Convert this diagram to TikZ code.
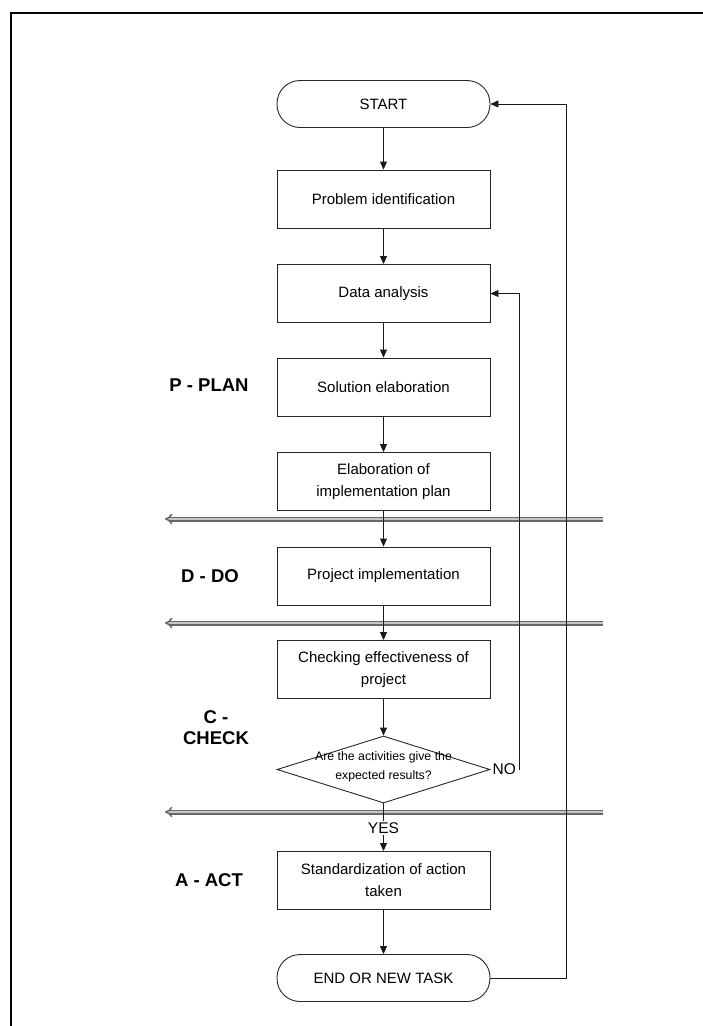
\documentclass[tikz,border=0pt]{standalone}
\usepackage{fontspec}
\setmainfont{Liberation Sans}
\usetikzlibrary{arrows.meta,shapes.geometric}
\begin{document}
\begin{tikzpicture}[x=1pt,y=-1pt,
  box/.style={draw=black!85, line width=0.9pt, minimum width=213pt, minimum height=58pt, align=center, font=\fontsize{15}{22}\selectfont, inner sep=2pt},
  term/.style={box, minimum height=47pt, rounded corners=23pt},
  arr/.style={draw=black!90, line width=0.9pt, -{Triangle[length=8pt,width=7pt]}},
  plain/.style={draw=black!90, line width=0.9pt},
  sep/.style={draw=black!60, double=black!22, double distance=2pt, line width=1.5pt, {Implies}-},
  phase/.style={font=\fontsize{18.5}{21}\selectfont\bfseries, align=center},
  lbl/.style={font=\fontsize{15.5}{18}\selectfont, inner sep=1.5pt},
]
\useasboundingbox (0,0) rectangle (703,1026);
% frame
\draw[line width=2pt] (10.5,1030) -- (10.5,12.5) -- (710,12.5);

% nodes
\node[term] (start) at (383.5,104) {START};
\node[box] (prob) at (383.5,199) {Problem identification};
\node[box] (data) at (383.5,293.5) {Data analysis};
\node[box] (sol) at (383.5,387) {Solution elaboration};
\node[box] (plan) at (383.5,481.5) {Elaboration of\\implementation plan};
\node[box] (impl) at (383.5,576) {Project implementation};
\node[box] (check) at (383.5,669.5) {Checking effectiveness of\\project};
\node[diamond, draw=black!85, line width=0.9pt, minimum width=213pt, minimum height=67pt, inner sep=0pt] (dec) at (383.5,769.5) {};
\node[font=\fontsize{12.3}{19}\selectfont, align=center, inner sep=0pt] (dectext) at (383.5,767) {Are the activities give the\\expected results?};
\node[box] (std) at (383.5,880.5) {Standardization of action\\taken};
\node[term] (end) at (383.5,978) {END OR NEW TASK};

% phase labels
\node[phase] (P) at (209,385) {P - PLAN};
\node[phase] (D) at (210,576) {D - DO};
\node[phase] (C) at (216,728) {C -\\CHECK};
\node[phase] (A) at (209,880) {A - ACT};

% separators
\coordinate (s1l) at (165,519); \coordinate (s1r) at (603,519);
\coordinate (s2l) at (165,623); \coordinate (s2r) at (603,623);
\coordinate (s3l) at (165,812); \coordinate (s3r) at (603,812);
\draw[sep] (s1l) -- (s1r);
\draw[sep] (s2l) -- (s2r);
\draw[sep] (s3l) -- (s3r);

% labels on connectors
\node[lbl, fill=white] (yes) at (383.5,828) {YES};
\node[lbl, anchor=west, inner xsep=3.5pt, inner ysep=1pt] (no) at ([xshift=-1.5pt]dec.east) {NO};

% connectors
\draw[arr] (start.south) -- (prob.north);
\draw[arr] (prob.south) -- (data.north);
\draw[arr] (data.south) -- (sol.north);
\draw[arr] (sol.south) -- (plan.north);
\draw[arr] (plan.south) -- (impl.north);
\draw[arr] (impl.south) -- (check.north);
\draw[arr] (check.south) -- (dec.north);
\draw[plain] (dec.south) -- (yes.north);
\draw[arr] (yes.south) -- (std.north);
\draw[arr] (std.south) -- (end.north);
\draw[arr] (no.east) |- (data.east);
\draw[arr] (end.east) -- ++(76,0) |- (start.east);
\end{tikzpicture}
\end{document}
